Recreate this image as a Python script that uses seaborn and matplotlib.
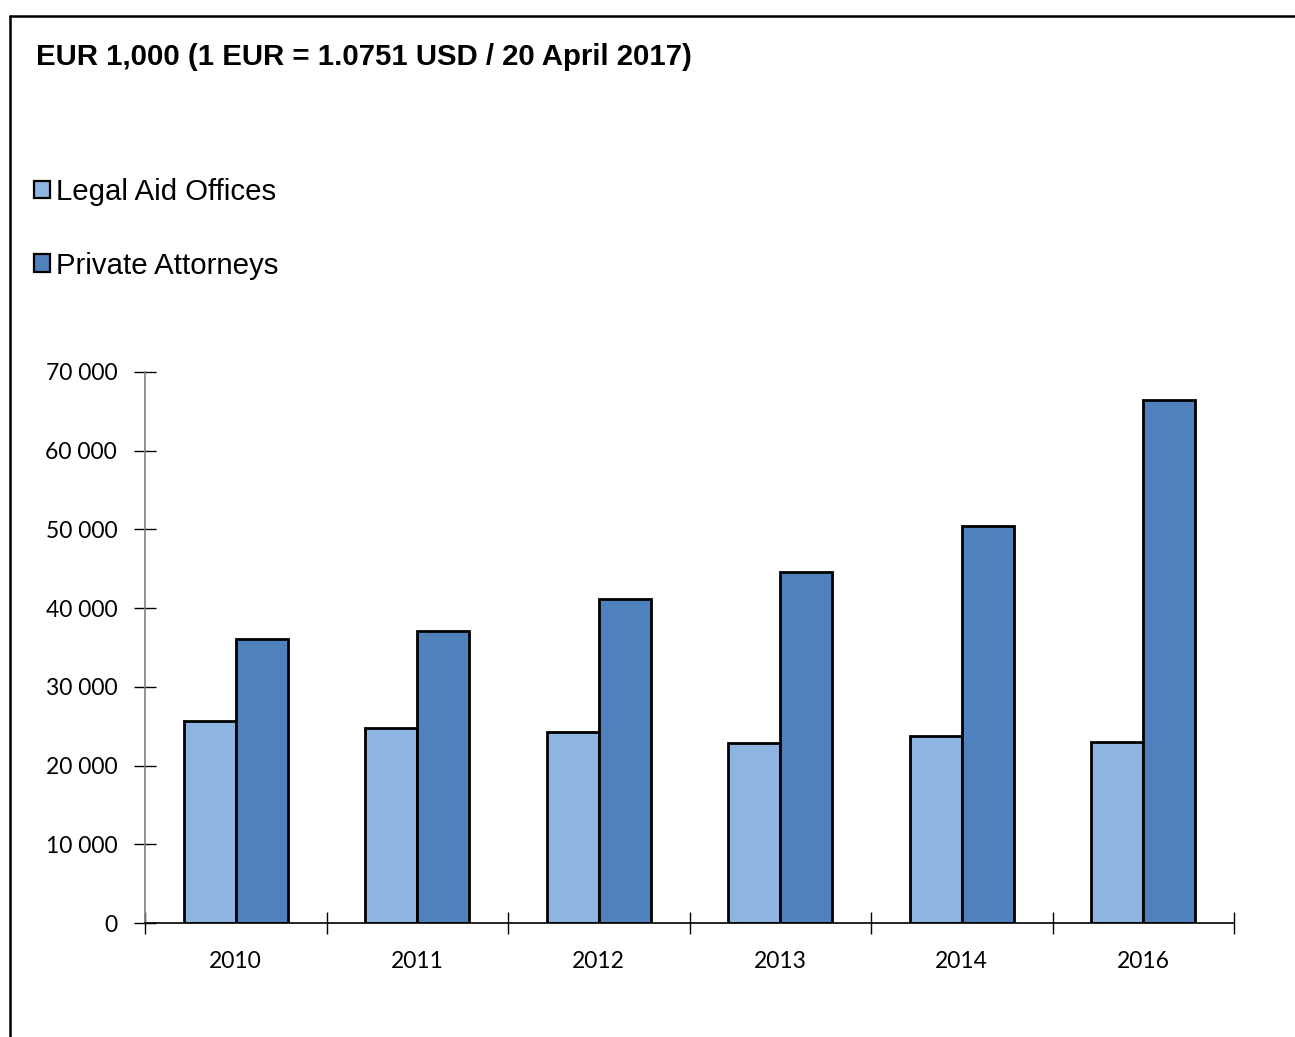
import matplotlib
matplotlib.use("Agg")
import matplotlib.pyplot as plt
import seaborn as sns
import pandas as pd
from matplotlib.patches import Patch
from matplotlib.lines import Line2D
from matplotlib.ticker import FuncFormatter, FixedLocator

years = ["2010", "2011", "2012", "2013", "2014", "2016"]
legal_aid = [25700, 24800, 24300, 22900, 23800, 23000]
private_att = [36100, 37100, 41100, 44600, 50400, 66500]
series_names = ["Legal Aid Offices", "Private Attorneys"]
title_text = "EUR 1,000 (1 EUR = 1.0751 USD / 20 April 2017)"

df = pd.DataFrame({
    "year": years * 2,
    "value": legal_aid + private_att,
    "series": [series_names[0]] * len(years) + [series_names[1]] * len(years),
})

colors = ["#8EB4E2", "#4F81BD"]

sns.set_style("white")
plt.rcParams["font.family"] = ["Liberation Sans", "DejaVu Sans"]
plt.rcParams["text.color"] = "black"
plt.rcParams["xtick.color"] = "black"
plt.rcParams["ytick.color"] = "black"
plt.rcParams["axes.labelcolor"] = "black"

fig = plt.figure(figsize=(12.95, 10.37), dpi=100)
ax = fig.add_axes([145/1295, 1-923/1037, (1234-145)/1295, (923-372)/1037])

sns.barplot(data=df, x="year", y="value", hue="series", palette=colors,
            width=0.573, gap=0, edgecolor="black", linewidth=2.0,
            ax=ax, legend=False, saturation=1)

ax.set_xlim(-0.5, len(years) - 0.5)
ax.set_ylim(0, 70000)
ax.set_xlabel("")
ax.set_ylabel("")

for s in ["top", "right"]:
    ax.spines[s].set_visible(False)
ax.spines["left"].set_color("#808080")
ax.spines["left"].set_linewidth(1.2)
ax.spines["bottom"].set_color("black")
ax.spines["bottom"].set_linewidth(1.2)

ax.yaxis.set_major_locator(FixedLocator(range(0, 70001, 10000)))
ax.yaxis.set_major_formatter(FuncFormatter(lambda v, p: f"{int(v):,}".replace(",", " ")))
ax.tick_params(axis="y", direction="inout", length=16, width=1, color="black",
               labelcolor="black", labelsize=16.5, pad=12, left=True)
for lab in ax.get_yticklabels():
    lab.set_family(["Lato", "DejaVu Sans"])

ax.set_xticks(range(len(years)))
ax.set_xticklabels(years)
ax.tick_params(axis="x", which="major", length=0, labelsize=16.5, labelcolor="black",
               pad=20, bottom=True)
for lab in ax.get_xticklabels():
    lab.set_family(["Lato", "DejaVu Sans"])
ax.set_xticks([i - 0.5 for i in range(len(years) + 1)], minor=True)
ax.tick_params(axis="x", which="minor", direction="inout", length=16, width=1,
               color="black", bottom=True)

fig.text(36/1295, 1-57/1037, title_text, fontsize=21.2, fontweight="bold",
         va="center", ha="left", color="black")

handles = [Patch(facecolor=c, edgecolor="black", linewidth=1.6) for c in colors]
leg = fig.legend(handles, series_names, loc="upper left",
                 bbox_to_anchor=(34/1295, 1-178/1037), frameon=False, fontsize=21.2,
                 handlelength=0.55, handleheight=0.55, handletextpad=0.2,
                 labelspacing=1.55, borderaxespad=0, borderpad=0)
for t in leg.get_texts():
    t.set_color("black")

fig.add_artist(Line2D([10/1295, 1], [1-16/1037, 1-16/1037], transform=fig.transFigure,
                      color="black", linewidth=1.8))
fig.add_artist(Line2D([10/1295, 10/1295], [1-16/1037, 0], transform=fig.transFigure,
                      color="black", linewidth=1.8))

fig.savefig("out.png", dpi=100)
